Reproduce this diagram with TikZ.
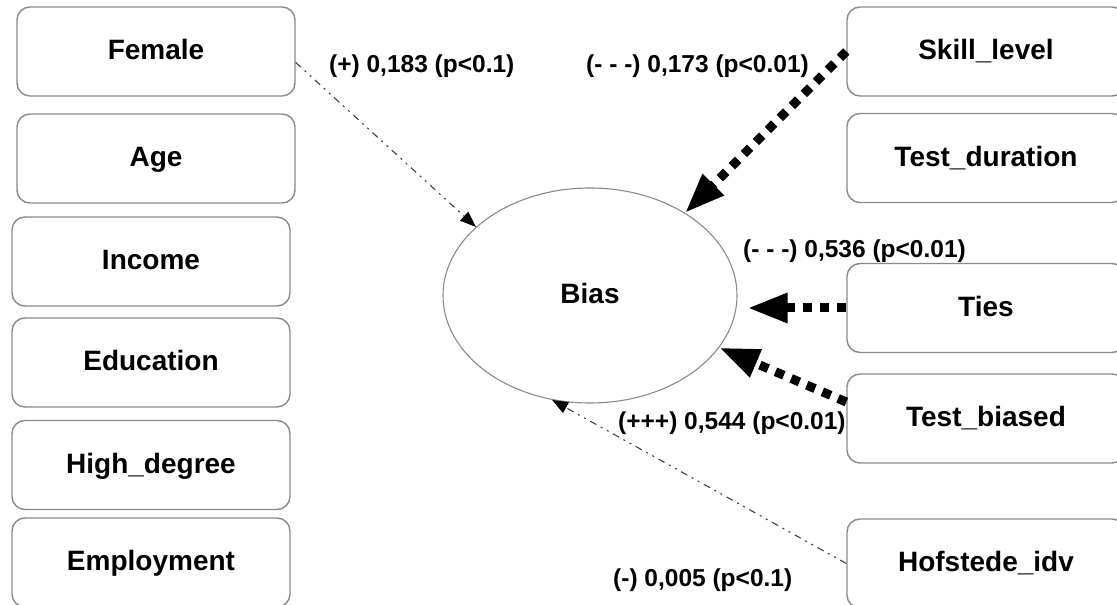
\documentclass[tikz,border=0pt]{standalone}
\usepackage{fontspec}
\setmainfont{Liberation Sans}
\usetikzlibrary{arrows.meta,shapes.geometric}
\definecolor{boxgray}{HTML}{8A8A8A}
\definecolor{linegray}{HTML}{404040}
\tikzset{
  var/.style={draw=boxgray, line width=1.4pt, rounded corners=13pt, minimum width=278pt, minimum height=89pt, inner sep=0pt,
    font=\fontsize{28}{30}\selectfont\bfseries, text height=22pt, text depth=5.6pt},
  latent/.style={draw=boxgray, line width=1.1pt, ellipse, minimum width=294pt, minimum height=215pt, inner sep=0pt,
    font=\fontsize{28}{30}\selectfont\bfseries, text height=22pt, text depth=5.6pt},
  lbl/.style={inner sep=0pt, anchor=base west, font=\fontsize{24.5}{26}\selectfont\bfseries},
  weak/.style={draw=linegray, line width=1.1pt, dash pattern=on 7pt off 5pt on 2pt off 5pt on 2pt off 5pt,
    -{Triangle[length=16pt,width=12pt,color=black]}},
  strong/.style={draw=black, line width=9pt, dash pattern=on 9pt off 8pt,
    -{Triangle[length=40pt,width=28pt]}},
}
\begin{document}
\begin{tikzpicture}[x=1pt,y=1pt]
\useasboundingbox (0,0) rectangle (1117,605);
\clip (0,0) rectangle (1117,605);
% left column
\node[var] (female) at (156,553.5) {Female};
\node[var] (age) at (156,446.5) {Age};
\node[var] (income) at (151,343.5) {Income};
\node[var] (education) at (151,242.5) {Education};
\node[var] (highdeg) at (151,140) {High\_degree};
\node[var] (employment) at (151,42.5) {Employment};
% right column
\node[var] (skill) at (986,553.5) {Skill\_level};
\node[var] (testdur) at (986,447) {Test\_duration};
\node[var] (ties) at (986,297) {Ties};
\node[var] (testb) at (986,186.5) {Test\_biased};
\node[var] (hofst) at (986,41.5) {Hofstede\_idv};
% latent
\node[latent] (bias) at (590,309.5) {Bias};
% connectors
\draw[weak] ([yshift=-11pt]female.east) -- (bias.149);
\draw[strong] (skill.west) -- (bias.41);
\draw[strong, shorten >=10pt] (ties.west) -- (ties.west -| bias.east);
\draw[strong] ([yshift=16.5pt]testb.west) -- (bias.-22);
\draw[weak] (hofst.west) -- (bias.250);
% labels
\node[lbl] (l1) at (329,532) {(+) 0,183 (p<0.1)};
\node[lbl] (l2) at (586,532) {(- - -) 0,173 (p<0.01)};
\node[lbl] (l3) at (743,347) {(- - -) 0,536 (p<0.01)};
\node[lbl] (l4) at (618,175) {(+++) 0,544 (p<0.01)};
\node[lbl] (l5) at (613,18.3) {(-) 0,005 (p<0.1)};
\end{tikzpicture}
\end{document}
